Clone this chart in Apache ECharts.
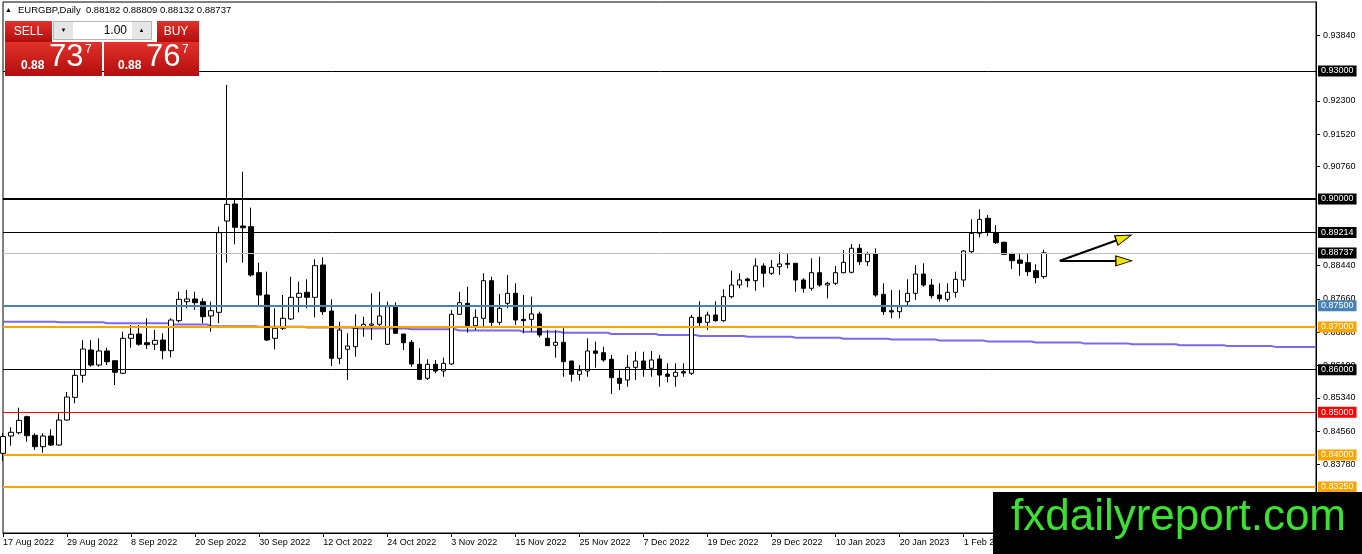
<!DOCTYPE html>
<html><head><meta charset="utf-8">
<script src="https://cdn.jsdelivr.net/npm/echarts@6/dist/echarts.min.js"></script>
<style>html,body{margin:0;padding:0;background:#fff}#c{width:1362px;height:554px}</style>
</head><body><div id="c"></div>
<script>
// ---- DATA ----
const symbolName = 'EURGBP,Daily';
const tickLabels = ['17 Aug 2022','29 Aug 2022','8 Sep 2022','20 Sep 2022','30 Sep 2022','12 Oct 2022','24 Oct 2022','3 Nov 2022','15 Nov 2022','25 Nov 2022','7 Dec 2022','19 Dec 2022','29 Dec 2022','10 Jan 2023','20 Jan 2023','1 Feb 2023','13 Feb 2023'];
const barsPerTick = 8;
const totalSlots = 165; // bars + empty space on the right (chart shift)

const opens = [0.84040,0.84445,0.84523,0.84898,0.84461,0.84195,0.84445,0.84234,0.84820,0.85352,
0.85868,0.86461,0.86109,0.86438,0.86210,0.85915,0.86735,0.86836,0.86632,0.86595,
0.86695,0.86445,0.87148,0.87593,0.87656,0.87593,0.87258,0.87344,0.89484,0.89883,
0.89367,0.89351,0.88273,0.87750,0.86735,0.86970,0.87188,0.87696,0.87813,0.87696,
0.88453,0.87375,0.86266,0.86477,0.86538,0.87007,0.87040,0.87063,0.86595,0.87476,
0.86836,0.86641,0.86126,0.85798,0.86126,0.85969,0.86133,0.87298,0.87555,0.87030,
0.87204,0.88085,0.87110,0.87555,0.87790,0.87180,0.87180,0.87305,0.86735,0.86571,
0.86641,0.86203,0.85891,0.85969,0.86438,0.86398,0.86243,0.85798,0.85758,0.86055,
0.86203,0.86032,0.86250,0.85898,0.85844,0.85952,0.85915,0.87227,0.87110,0.87281,
0.87148,0.87710,0.87984,0.88125,0.88085,0.88430,0.88259,0.88413,0.88493,0.88493,
0.88102,0.87907,0.88273,0.87984,0.88024,0.88273,0.88282,0.88845,0.88530,0.88711,
0.87766,0.87382,0.87359,0.87593,0.87790,0.88242,0.87984,0.87750,0.87649,0.87813,
0.88102,0.88765,0.89196,0.89548,0.89196,0.88985,0.88711,0.88570,0.88507,0.88320,
0.88182];
const highs = [0.84516,0.84649,0.85109,0.84921,0.84508,0.84508,0.84602,0.84977,0.85477,0.86016,
0.86695,0.86695,0.86735,0.86515,0.86210,0.86890,0.87047,0.87047,0.87204,0.86930,
0.86852,0.87204,0.87827,0.87867,0.87827,0.87673,0.87593,0.89351,0.92672,0.89993,
0.90640,0.89796,0.88507,0.88296,0.87438,0.87750,0.88179,0.88062,0.88118,0.88587,
0.88634,0.87649,0.87124,0.86852,0.87298,0.87241,0.87790,0.87827,0.87593,0.87579,
0.86836,0.86695,0.86501,0.86243,0.86227,0.86280,0.87398,0.87827,0.87944,0.87415,
0.88258,0.88179,0.87773,0.88219,0.88024,0.87750,0.87712,0.87359,0.86930,0.86930,
0.86970,0.86203,0.86109,0.86735,0.86656,0.86538,0.86344,0.85992,0.86344,0.86421,
0.86421,0.86438,0.86344,0.86149,0.86149,0.86149,0.87281,0.87602,0.87359,0.87602,
0.87884,0.88320,0.88259,0.88156,0.88610,0.88493,0.88570,0.88751,0.88727,0.88493,
0.88141,0.88610,0.88648,0.88062,0.88430,0.88805,0.88945,0.88945,0.88765,0.88845,
0.88024,0.87867,0.87867,0.88118,0.88453,0.88493,0.88125,0.88024,0.88024,0.88296,
0.88805,0.89524,0.89759,0.89625,0.89391,0.88999,0.88741,0.88727,0.88727,0.88470,
0.88809];
const lows = [0.83859,0.84218,0.84485,0.84312,0.84117,0.84054,0.84211,0.84218,0.84804,0.85212,
0.85695,0.86070,0.86070,0.86109,0.85641,0.85898,0.86515,0.86562,0.86484,0.86461,
0.86243,0.86290,0.87110,0.87438,0.87398,0.87087,0.86890,0.87087,0.88507,0.88938,
0.88507,0.88179,0.87516,0.86672,0.86477,0.86930,0.87164,0.87344,0.87438,0.87227,
0.87281,0.86086,0.86126,0.85758,0.86304,0.86773,0.86695,0.87007,0.86578,0.86836,
0.86461,0.86070,0.85758,0.85758,0.85915,0.85835,0.86109,0.87281,0.86867,0.86930,
0.86970,0.86970,0.87047,0.87438,0.87047,0.86852,0.86890,0.86759,0.86562,0.86280,
0.85835,0.85718,0.85741,0.85835,0.86047,0.86187,0.85430,0.85523,0.85602,0.85758,
0.85835,0.85835,0.85602,0.85704,0.85602,0.85835,0.85875,0.87007,0.86930,0.87124,
0.87124,0.87673,0.87907,0.87930,0.87851,0.87930,0.88219,0.88219,0.88376,0.87827,
0.87804,0.87851,0.87944,0.87673,0.87984,0.88259,0.88259,0.88453,0.88430,0.87710,
0.87281,0.87204,0.87204,0.87516,0.87633,0.87944,0.87673,0.87593,0.87593,0.87687,
0.87938,0.88711,0.89102,0.89133,0.88945,0.88688,0.88359,0.88202,0.88195,0.88024,
0.88132];
const closes = [0.84434,0.84532,0.84813,0.84452,0.84195,0.84445,0.84234,0.84820,0.85359,0.85868,
0.86484,0.86109,0.86438,0.86187,0.85938,0.86735,0.86829,0.86595,0.86585,0.86688,
0.86445,0.87164,0.87649,0.87656,0.87570,0.87241,0.87382,0.89210,0.89876,0.89337,
0.89327,0.88219,0.87750,0.86695,0.86970,0.87204,0.87696,0.87790,0.87696,0.88437,
0.87359,0.86266,0.86930,0.86555,0.86970,0.87063,0.87070,0.87258,0.87476,0.86852,
0.86632,0.86133,0.85774,0.86126,0.85969,0.86149,0.87298,0.87570,0.87030,0.87227,
0.88085,0.87110,0.87438,0.87790,0.87164,0.87148,0.87305,0.86813,0.86562,0.86641,
0.86187,0.85891,0.85976,0.86438,0.86384,0.86227,0.85812,0.85680,0.86055,0.86203,
0.86016,0.86227,0.85875,0.85844,0.85938,0.85922,0.87227,0.87101,0.87281,0.87148,
0.87710,0.87984,0.88102,0.88085,0.88430,0.88259,0.88399,0.88477,0.88470,0.88102,
0.87907,0.88273,0.87984,0.88024,0.88273,0.88516,0.88845,0.88530,0.88711,0.87750,
0.87359,0.87352,0.87476,0.87790,0.88242,0.87984,0.87734,0.87663,0.87813,0.88118,
0.88781,0.89196,0.89524,0.89234,0.88976,0.88704,0.88554,0.88493,0.88296,0.88156,
0.88737];

// slow moving average (purple), one value per slot
const maValues = [
0.87124,0.87124,0.87124,0.87124,0.87124,0.87124,0.87124,
0.87110,0.87110,0.87110,0.87110,0.87110,0.87110,
0.87087,0.87087,0.87087,0.87087,0.87087,0.87087,0.87087,0.87087,
0.87059,0.87059,0.87059,0.87059,0.87059,
0.87019,0.87019,0.87019,0.87019,0.87019,0.87019,
0.87005,0.87005,0.87005,0.87005,0.87005,0.87005,
0.86988,0.86988,0.86988,0.86988,0.86988,0.86988,
0.86965,0.86965,0.86965,0.86965,0.86965,0.86965,0.86965,
0.86946,0.86946,0.86946,0.86946,0.86946,0.86946,
0.86918,0.86918,0.86918,0.86918,0.86918,0.86918,0.86918,0.86918,
0.86890,0.86890,0.86890,0.86890,0.86890,
0.86866,0.86866,0.86866,0.86866,0.86866,0.86866,
0.86836,0.86836,0.86836,0.86836,0.86836,0.86836,
0.86813,0.86813,0.86813,0.86813,0.86813,
0.86791,0.86791,0.86791,0.86791,0.86791,0.86791,
0.86770,0.86770,0.86770,0.86770,0.86770,0.86770,
0.86747,0.86747,0.86747,0.86747,0.86747,0.86747,
0.86726,0.86726,0.86726,0.86726,0.86726,0.86726,
0.86705,0.86705,0.86705,0.86705,0.86705,0.86705,
0.86681,0.86681,0.86681,0.86681,0.86681,0.86681,
0.86660,0.86660,0.86660,0.86660,0.86660,0.86660,
0.86639,0.86639,0.86639,0.86639,0.86639,0.86639,
0.86616,0.86616,0.86616,0.86616,0.86616,0.86616,
0.86594,0.86594,0.86594,0.86594,0.86594,0.86594,
0.86573,0.86573,0.86573,0.86573,0.86573,0.86573,
0.86552,0.86552,0.86552,0.86552,0.86552,0.86552,
0.86531,0.86531,0.86531,0.86531,0.86531,0.86531];

const priceTicks = [0.83780,0.84560,0.85340,0.86100,0.86880,0.87660,0.88440,0.90760,0.91520,0.92300,0.93840];
const levelValues = [0.93000,0.90000,0.89214,0.87500,0.87000,0.86000,0.85000,0.84000,0.83250];
const askPrice = 0.88767;
// arrows: [startIndex, startPrice, headIndex, headPrice]
const arrowUp = [132, 0.88554, 140, 0.89091];
const arrowFlat = [132, 0.88550, 140, 0.88550];

// ---- STYLES ----
const FONT = '"Liberation Sans", Arial, sans-serif';
const levelLineColors = ['#000','#000','#000','#4682B4','#FFA500','#000','#FF0000','#FFA500','#FFA500'];
const levelLineWidths = [1,2,1,2,2,1,1,2,2];
const levelLabelBg = ['#000','#000','#000','#4682B4','#FFA500','#000','#FF0000','#FFA500','#FFA500'];

// ---- BUILD ----
const slots = [];
for (let i = 0; i < totalSlots; i++) slots.push(String(i));
const candles = opens.map((o, i) => [o, closes[i], lows[i], highs[i]]);
const last = closes.length - 1;
const bid = closes[last];

const labelBase = {show:true, position:'end', distance:2, color:'#fff', fontSize:9, fontFamily:FONT,
  padding:[1,3,0,3], lineHeight:10, formatter: p => Number(p.value).toFixed(5)};

const markLineData = levelValues.map((v, i) => ({
  yAxis: v,
  lineStyle: {color: levelLineColors[i], width: levelLineWidths[i], type:'solid'},
  label: Object.assign({}, labelBase, {backgroundColor: levelLabelBg[i]})
}));
markLineData.push({
  yAxis: bid,
  lineStyle: {color:'#c0c0c0', width:1, type:'solid'},
  label: Object.assign({}, labelBase, {backgroundColor:'#000'})
});
[arrowUp, arrowFlat].forEach(a => {
  markLineData.push([
    {coord:[a[0], a[1]], lineStyle:{color:'#000', width:2, type:'solid'}, label:{show:false}},
    {coord:[a[2], a[3]]}
  ]);
});

const headPath = 'path://M0,0L16,5L0,10Z';
const angleUp = 19.7;
const markPointData = [
  {coord:[arrowUp[2], arrowUp[3]], symbol:headPath, symbolSize:[16,10], symbolRotate:angleUp,
   itemStyle:{color:'#f2e600', borderColor:'#000', borderWidth:1}},
  {coord:[arrowFlat[2], arrowFlat[3]], symbol:headPath, symbolSize:[16,10], symbolRotate:0,
   itemStyle:{color:'#f2e600', borderColor:'#000', borderWidth:1}}
];

function splitPrice(p) {
  const s = p.toFixed(5);
  return [s.slice(0,4), s.slice(4,6), s.slice(6,7)];
}
const bidParts = splitPrice(bid);
const askParts = splitPrice(askPrice);
const fmt = v => v.toFixed(5);
const headerText = symbolName + '  ' + fmt(opens[last]) + ' ' + fmt(highs[last]) + ' ' + fmt(lows[last]) + ' ' + fmt(closes[last]);

const redGrad = {type:'linear', x:0, y:0, x2:0, y2:1, colorStops:[{offset:0,color:'#e3312b'},{offset:1,color:'#b10d0d'}]};
function rect(x, y, w, h, fill, stroke) {
  return {type:'rect', z:100, shape:{x, y, width:w, height:h}, style:{fill, stroke: stroke || null, lineWidth: stroke ? 1 : 0}};
}
function txt(x, y, text, font, fill, align) {
  return {type:'text', z:101, x, y, style:{text, font, fill, textAlign: align || 'left', textVerticalAlign:'middle', verticalAlign:'middle'}};
}

const graphics = [
  txt(5, 10, '▲', '7px ' + FONT, '#000'),
  txt(18, 10, headerText, '9.5px ' + FONT, '#000'),
  rect(5, 21, 47, 21, redGrad),
  rect(5, 42, 97, 34, redGrad),
  rect(157, 21, 42, 21, redGrad),
  rect(104, 42, 95, 34, redGrad),
  rect(53.5, 21.5, 98, 18, '#fff', '#b4b4b4'),
  rect(54, 22, 19, 17, '#e6e6e6'),
  rect(132, 22, 19, 17, '#e6e6e6'),
  txt(63.5, 30, '▼', '6px ' + FONT, '#000', 'center'),
  txt(141.5, 30, '▲', '6px ' + FONT, '#000', 'center'),
  txt(127, 30.5, '1.00', '12px ' + FONT, '#000', 'right'),
  txt(28.5, 31.5, 'SELL', '12px ' + FONT, '#fff', 'center'),
  txt(176, 31.5, 'BUY', '12px ' + FONT, '#fff', 'center'),
  txt(21, 65.5, bidParts[0], 'bold 12px ' + FONT, '#fff'),
  txt(49, 57, bidParts[1], '31px ' + FONT, '#fff'),
  txt(85, 50, bidParts[2], '12px ' + FONT, '#fff'),
  txt(118, 65.5, askParts[0], 'bold 12px ' + FONT, '#fff'),
  txt(146, 57, askParts[1], '31px ' + FONT, '#fff'),
  txt(182, 50, askParts[2], '12px ' + FONT, '#fff'),
  rect(993, 492, 369, 62, '#000'),
  txt(1011, 518, 'fxdailyreport.com', '44px ' + FONT, '#3be032')
];

const chart = echarts.init(document.getElementById('c'), null, {renderer:'canvas'});
chart.setOption({
  animation:false,
  backgroundColor:'#fff',
  grid:{left:3, right:46, top:2, bottom:21, show:true, borderColor:'#000', borderWidth:1, backgroundColor:'#fff'},
  xAxis:{
    type:'category', data:slots, boundaryGap:false,
    axisLine:{show:true, lineStyle:{color:'#000', width:1}},
    axisTick:{show:true, interval:barsPerTick-1, length:4, lineStyle:{color:'#000'}},
    axisLabel:{show:true, interval:barsPerTick-1, align:'left', margin:5, color:'#000', fontSize:9, fontFamily:FONT,
      formatter:(v, idx) => (idx % barsPerTick === 0 ? (tickLabels[idx / barsPerTick] || '') : '')},
    splitLine:{show:false}
  },
  yAxis:{
    type:'value', position:'right', min:0.82172, max:0.94617, scale:true,
    axisLine:{show:true, lineStyle:{color:'#000', width:1}},
    axisTick:{show:true, length:4, customValues:priceTicks, lineStyle:{color:'#000'}},
    axisLabel:{show:true, customValues:priceTicks, margin:7, color:'#000', fontSize:9, fontFamily:FONT,
      formatter: v => Number(v).toFixed(5)},
    splitLine:{show:false}
  },
  series:[
    {type:'line', data:maValues, showSymbol:false, step:'middle', silent:true,
     lineStyle:{color:'#7B68EE', width:2}, z:1},
    {type:'candlestick', data:candles, barWidth:5, clip:true, z:2,
     itemStyle:{color:'#fff', color0:'#000', borderColor:'#000', borderColor0:'#000', borderWidth:1},
     markLine:{silent:true, symbol:['none','none'], animation:false, precision:5, data:markLineData},
     markPoint:{silent:true, animation:false, label:{show:false}, data:markPointData}
    }
  ],
  graphic:{elements:graphics}
});
</script>
</body></html>
